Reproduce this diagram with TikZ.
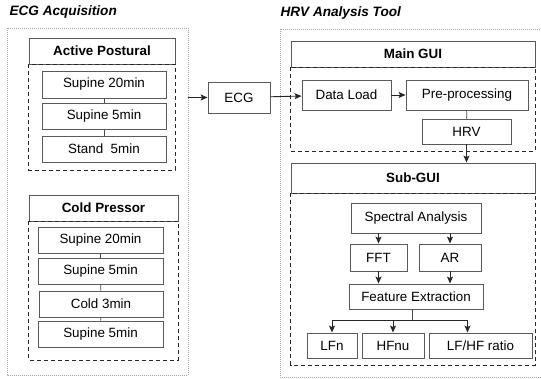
\documentclass[tikz,border=0pt]{standalone}
\usepackage{fontspec}
\setmainfont{Liberation Sans}
\usepackage{tikz}
\usetikzlibrary{shapes,arrows,arrows.meta,backgrounds,positioning}

\tikzset{
  box/.style = {draw=black!65, line width=0.9pt, inner sep=0pt, minimum height=26pt},
  head/.style = {box, font=\fontsize{13.4}{15}\selectfont\bfseries},
  group/.style = {draw=black!85, line width=0.9pt, dash pattern=on 4pt off 3pt},
  frame/.style = {draw=black!35, line width=0.9pt, dash pattern=on 1pt off 1pt},
  title/.style = {anchor=west, font=\fontsize{13.6}{15}\selectfont\bfseries\itshape},
  flow/.style = {draw=black!85, line width=0.9pt, -{Stealth[length=7pt,width=6pt,inset=1.5pt]}},
  link/.style = {draw=black!70, line width=0.9pt}
}

\begin{document}
\begin{tikzpicture}[x=1pt, y=-1pt, font=\fontsize{13.4}{15}\selectfont]
\useasboundingbox (0,0) rectangle (541,379);

% ECG acquisition side
\node [title] (acqtitle) at (6,12) {ECG Acquisition};
\draw [frame] (7,28) rectangle (188,375);
\coordinate (acqedge) at (188,97.5);

\node [head, minimum width=146pt] (postural) at (102,51) {Active Postural};
\draw [group] (postural.south west) rectangle (175,170);
\node [box, minimum width=124pt, minimum height=27pt] (ps1) at (104,84.5) {Supine 20min};
\node [box, minimum width=124pt] (ps2) at (104,116) {Supine 5min};
\node [box, minimum width=124pt] (ps3) at (104,149) {Stand\ \ 5min};
\draw [link] (ps1) -- (ps2);
\draw [link] (ps2) -- (ps3);

\node [head, minimum width=149pt] (cold) at (103.5,208) {Cold Pressor};
\draw [group] (cold.south west) rectangle (178,360);
\node [box, minimum width=125pt] (cp1) at (100.5,240) {Supine 20min};
\node [box, minimum width=125pt] (cp2) at (100.5,271) {Supine 5min};
\node [box, minimum width=124pt] (cp3) at (101,304) {Cold 3min};
\node [box, minimum width=125pt] (cp4) at (100.5,334) {Supine 5min};
\draw [link] (cp1) -- (cp2);
\draw [link] (cp2) -- (cp3);
\draw [link] (cp3) -- (cp4);

\node [box, minimum width=62pt, minimum height=31pt] (ecg) at (239,97.5) {ECG};
\draw [flow] (acqedge) -- (ecg);

% HRV analysis tool side
\node [title] (hrvtitle) at (277,13) {HRV Analysis Tool};
\draw [frame] (280,29) rectangle (546,377);

\node [head, minimum width=244pt] (maingui) at (413,54) {Main GUI};
\draw [group] (maingui.south west) rectangle (535,151);
\node [box, minimum width=89pt, minimum height=30pt] (load) at (346.5,95) {Data Load};
\node [box, minimum width=122pt, minimum height=30pt] (prep) at (467,95) {Pre-processing};
\node [box, minimum width=89pt, minimum height=25pt] (hrv) at (466.5,131.5) {HRV};
\draw [flow] (ecg) -- (load);
\draw [flow] (load) -- (prep);
\draw [link] (prep) -- (hrv);

\node [head, minimum width=244pt, minimum height=30pt] (subgui) at (413,178) {Sub-GUI};
\draw [group] (subgui.south west) rectangle (535,365);
\draw [flow] (hrv.south) -- (hrv.south |- subgui.north);

\node [box, minimum width=130pt, minimum height=30pt] (spec) at (416,218) {Spectral Analysis};
\node [box, minimum width=57pt, minimum height=27pt] (fft) at (378.5,257.5) {FFT};
\node [box, minimum width=62pt, minimum height=27pt] (ar) at (450,257.5) {AR};
\node [box, minimum width=134pt, minimum height=25pt] (feat) at (416,296.5) {Feature Extraction};
\draw [flow] (spec.south -| fft) -- (fft);
\draw [flow] (spec.south -| ar) -- (ar);
\draw [flow] (fft) -- (fft |- feat.north);
\draw [flow] (ar) -- (ar |- feat.north);

\node [box, minimum width=50pt, minimum height=25pt] (lfn) at (332,345.5) {LFn};
\node [box, minimum width=62pt, minimum height=25pt] (hfnu) at (393,345.5) {HFnu};
\node [box, minimum width=103pt, minimum height=25pt] (ratio) at (480.5,345.5) {LF/HF ratio};
\coordinate (split) at (412,320);
\draw [link] (feat.south -| split) -- (split);
\draw [flow] (split) -| (lfn.north);
\draw [flow] (split) -| (hfnu.north);
\draw [flow] (split) -| ([xshift=-13pt]ratio.north);
\end{tikzpicture}
\end{document}
